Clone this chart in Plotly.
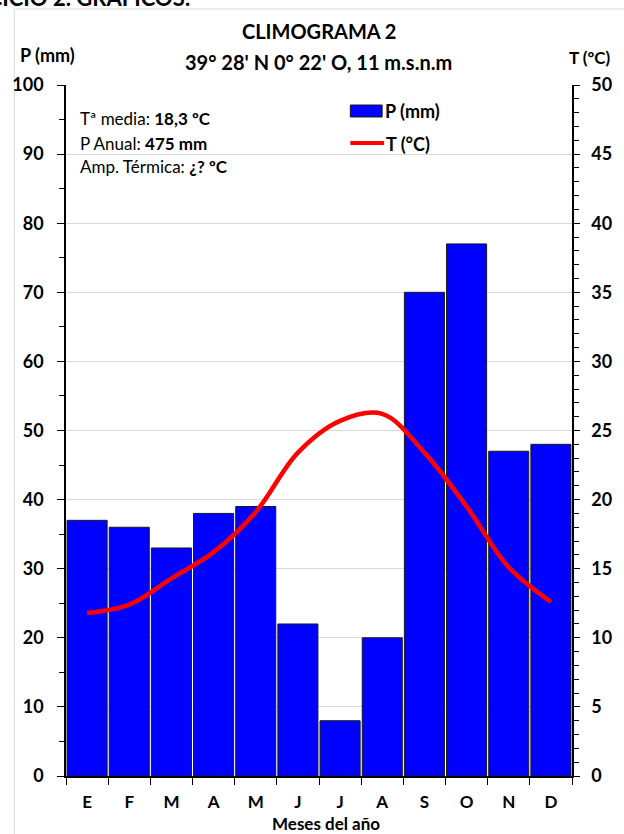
import plotly.graph_objects as go

months = ["E", "F", "M", "A", "M ", "J", "J ", "A ", "S", "O", "N", "D"]
month_labels = ["E", "F", "M", "A", "M", "J", "J", "A", "S", "O", "N", "D"]
precip_mm = [37, 36, 33, 38, 39, 22, 8, 20, 70, 77, 47, 48]
temp_c = [11.8, 12.4, 14.3, 16.2, 19.1, 23.4, 25.7, 26.2, 23.4, 19.5, 15.1, 12.6]

FONT = "Lato, Calibri, Carlito, sans-serif"

# page offset (body margin removed via post_script)
OX, OY = 0, 0
W, H = 624, 834
# plot area in page pixels
X0, X1, Y0, Y1 = 65, 574, 85, 776
L = X0 - OX
R = W - (X1 - OX)
T = Y0 - OY
B = H - (Y1 - OY)
pw, ph = X1 - X0, Y1 - Y0


def px(x):
    return (x - X0) / pw


def py(y):
    return (Y1 - y) / ph


fig = go.Figure()
fig.add_trace(go.Bar(
    x=months, y=precip_mm, name="P (mm)",
    marker=dict(color="#0000FF", line=dict(color="#1a1a1a", width=1)),
    yaxis="y", showlegend=False,
))
fig.add_trace(go.Scatter(
    x=months, y=temp_c, name="T (°C)", mode="lines",
    line=dict(color="#FF0000", width=4.5, shape="spline", smoothing=1.0),
    yaxis="y2", showlegend=False,
))

tickfont = dict(family=FONT, size=18, weight="bold")

fig.update_layout(
    width=W, height=H,
    margin=dict(l=L, r=R, t=T, b=B),
    paper_bgcolor="white", plot_bgcolor="white",
    font=dict(family=FONT, color="black", size=15),
    bargap=0.05,
    showlegend=False,
    xaxis=dict(
        type="category", tickmode="array", tickvals=months, ticktext=month_labels,
        tickson="boundaries", ticks="outside", ticklen=7, tickcolor="black",
        showline=True, linecolor="black", linewidth=1.5,
        tickfont=dict(family=FONT, size=17, weight="bold"),
        ticklabelstandoff=10,
        showgrid=False,
    ),
    yaxis=dict(
        range=[0, 100], dtick=10, ticks="outside", ticklen=7, tickcolor="black",
        showline=True, linecolor="black", linewidth=1.5,
        showgrid=True, gridcolor="#d9d9d9", gridwidth=1,
        tickfont=tickfont, ticklabelstandoff=10,
        minor=dict(dtick=5, ticks="outside", ticklen=5, tickcolor="black", showgrid=False),
        zeroline=False,
    ),
    yaxis2=dict(
        range=[0, 50], dtick=5, overlaying="y", side="right",
        ticks="outside", ticklen=6, tickcolor="black",
        showline=True, linecolor="black", linewidth=1.5,
        showgrid=False, zeroline=False,
        tickfont=tickfont, ticklabelstandoff=8,
        minor=dict(dtick=1, ticks="outside", ticklen=5, tickcolor="black", showgrid=False),
    ),
)

# outer light frame
fig.add_shape(type="rect", xref="paper", yref="paper",
              x0=px(13), x1=px(660), y0=py(860), y1=py(9),
              line=dict(color="#d9d9d9", width=1), fillcolor="rgba(0,0,0,0)", layer="below")

# manual legend
fig.add_shape(type="rect", xref="paper", yref="paper",
              x0=px(351), x1=px(383), y0=py(117), y1=py(105),
              line=dict(color="#1a1a1a", width=1), fillcolor="#0000FF")
fig.add_shape(type="line", xref="paper", yref="paper",
              x0=px(351), x1=px(385), y0=py(143), y1=py(143),
              line=dict(color="#FF0000", width=4))

ann = [
    ("CLIMOGRAMA 2", 320, 31, 20, "center"),
    ("39° 28' N 0° 22' O, 11 m.s.n.m", 319, 62, 20, "center"),
    ("P (mm)", 46, 55, 18, "center"),
    ("T (ºC)", 592, 57, 17, "center"),
    ("P (mm)", 384, 111, 18, "left"),
    ("T (°C)", 385, 144, 18, "left"),
    ("Meses del año", 327, 823, 17, "center"),
]
for text, x, y, size, xa in ann:
    fig.add_annotation(
        text=text, x=px(x), y=py(y), xref="paper", yref="paper",
        showarrow=False, xanchor=xa, yanchor="middle",
        font=dict(family=FONT, size=size, weight="bold"),
    )

info = [
    ("Tª media: <b>18,3 ºC</b>", 118),
    ("P Anual: <b>475 mm</b>", 143),
    ("Amp. Térmica: <b>¿? ºC</b>", 166),
]
for txt, yy in info:
    fig.add_annotation(
        text=txt, x=px(77), y=py(yy), xref="paper", yref="paper",
        showarrow=False, xanchor="left", yanchor="middle",
        font=dict(family=FONT, size=17),
    )

# cut-off heading at the very top of the page
fig.add_annotation(
    text="<b>EJERCICIO 2. GRÁFICOS:</b>", x=px(192), y=py(13), xref="paper", yref="paper",
    showarrow=False, xanchor="right", yanchor="bottom",
    font=dict(family=FONT, size=22),
)

fig.write_html(
    "out.html",
    config={"displayModeBar": False},
    post_script="document.body.style.margin='0';document.body.style.padding='0';document.body.style.overflow='hidden';",
)
